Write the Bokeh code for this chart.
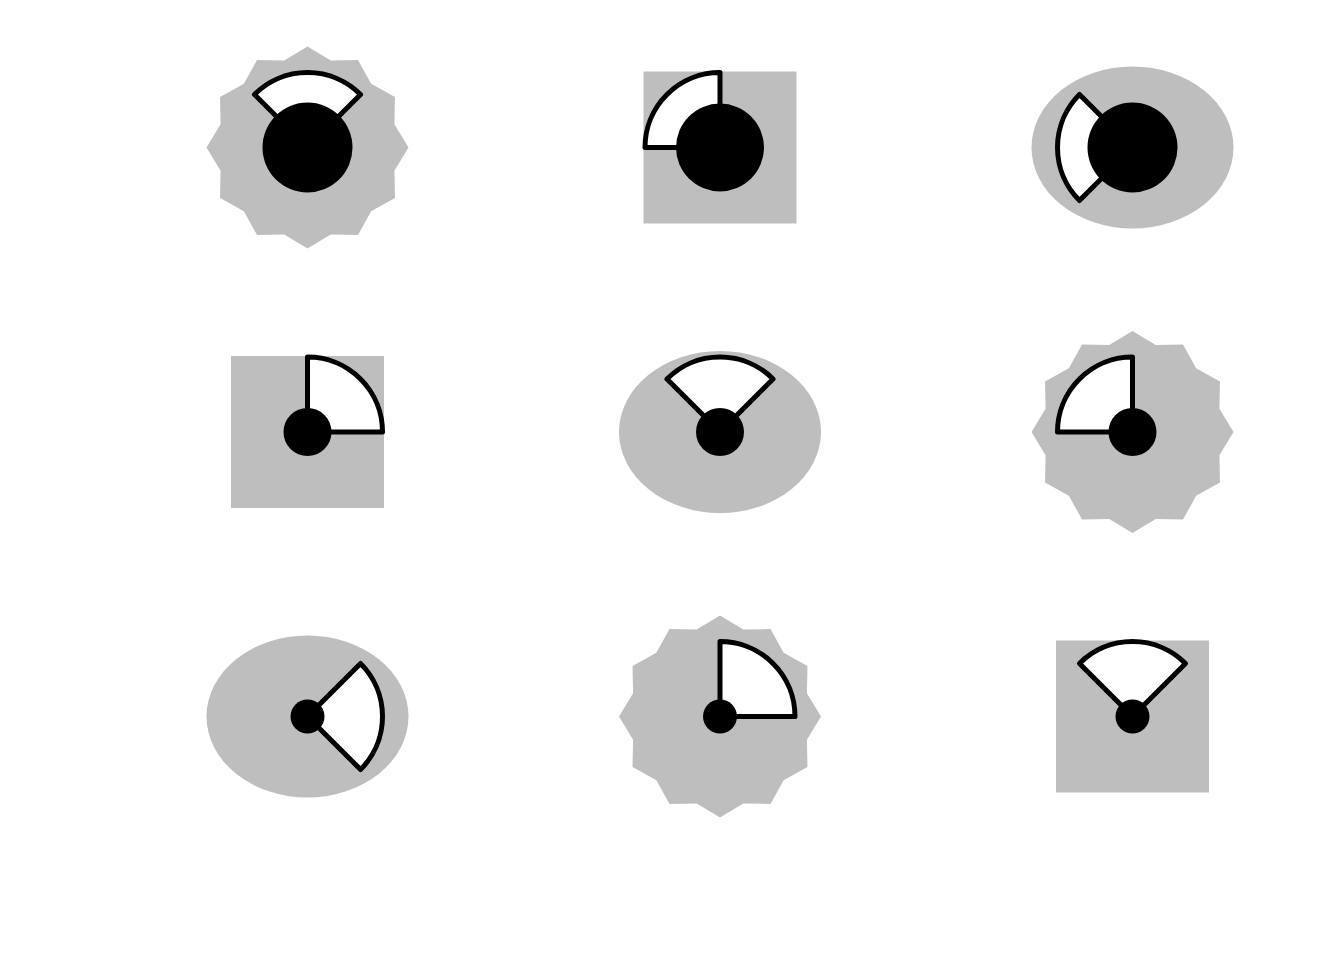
import math
from bokeh.plotting import figure
from bokeh.models import Range1d, ColumnDataSource
from bokeh.embed import file_html
from bokeh.resources import INLINE

# ---- data ----
xs = [1, 2, 3, 1, 2, 3, 1, 2, 3]
ys = [3, 3, 3, 2, 2, 2, 1, 1, 1]
shapes = ["star", "square", "ellipse",
          "square", "ellipse", "star",
          "ellipse", "star", "square"]
start_deg = [45, 90, 135, 0, 45, 90, -45, 0, 45]
end_deg = [135, 180, 225, 90, 135, 180, 45, 90, 135]
dot_size = [90, 88, 90, 48, 48, 48, 34, 34, 34]

# ---- styles ----
GREY = "#BEBEBE"
W, H = 1328, 944
PX_X, PX_Y = 412.5, 284.5
X0 = 1 - 307 / PX_X
X1 = X0 + W / PX_X
Y1 = 3 + 147 / PX_Y
Y0 = Y1 - H / PX_Y

p = figure(width=W, height=H, x_range=Range1d(X0, X1), y_range=Range1d(Y0, Y1),
           output_backend="svg", toolbar_location=None, min_border=0)
p.axis.visible = False
p.grid.visible = False
p.outline_line_color = None
p.background_fill_color = "white"
p.border_fill_color = "white"

def pick(kind):
    idx = [i for i, s in enumerate(shapes) if s == kind]
    return [xs[i] for i in idx], [ys[i] for i in idx]

# squares
sx, sy = pick("square")
p.rect(sx, sy, width=153, height=152, width_units="screen", height_units="screen",
       fill_color=GREY, line_color=None)

# ellipses
ex, ey = pick("ellipse")
p.ellipse(ex, ey, width=202, height=162, width_units="screen", height_units="screen",
          fill_color=GREY, line_color=None)

# 12-point stars
R_OUT, R_IN, NPTS = 101, 90, 12
tx, ty = pick("star")
star_xs, star_ys = [], []
for cx, cy in zip(tx, ty):
    px, py = [], []
    for k in range(NPTS):
        a = math.radians(90 + k * 360 / NPTS)
        px.append(cx + R_OUT * math.cos(a) / PX_X)
        py.append(cy + R_OUT * math.sin(a) / PX_Y)
        b = math.radians(90 + (k + 0.5) * 360 / NPTS)
        px.append(cx + R_IN * math.cos(b) / PX_X)
        py.append(cy + R_IN * math.sin(b) / PX_Y)
    star_xs.append(px)
    star_ys.append(py)
p.patches(star_xs, star_ys, fill_color=GREY, line_color=None)

# wedges
src = ColumnDataSource(dict(x=xs, y=ys, s=start_deg, e=end_deg, d=dot_size))
p.wedge(x="x", y="y", radius=75, radius_units="screen",
        start_angle="s", end_angle="e", start_angle_units="deg", end_angle_units="deg",
        fill_color="white", line_color="black", line_width=5, line_join="round",
        source=src)

# black dots
p.scatter(x="x", y="y", size="d", marker="circle", fill_color="black",
          line_color=None, source=src)

open("out.html", "w").write(file_html(p, INLINE))
